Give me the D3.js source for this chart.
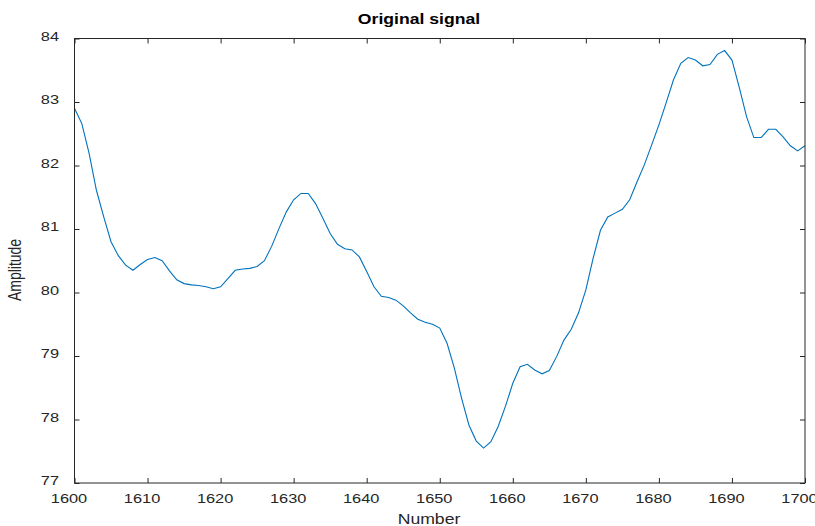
<!DOCTYPE html>
<html>
<head>
<meta charset="utf-8">
<script src="https://cdn.jsdelivr.net/npm/d3@7"></script>
<style>
  body { margin: 0; background: #fff; }
  svg { display: block; }
  text { font-family: "Liberation Sans", Arial, Helvetica, sans-serif; fill: #262626; }
</style>
</head>
<body>
<div id="chart"></div>
<script>
// sample numbers along the x axis
const sampleStart = 1600;
// amplitude of each sample, 1600..1700
const amplitude = [
  82.90, 82.66, 82.19, 81.61, 81.19, 80.80, 80.58, 80.43, 80.35, 80.44,
  80.52, 80.55, 80.50, 80.34, 80.20, 80.14, 80.12, 80.11, 80.09, 80.06,
  80.09, 80.22, 80.35, 80.37, 80.38, 80.41, 80.50, 80.73, 81.01, 81.27,
  81.46, 81.56, 81.56, 81.40, 81.17, 80.93, 80.76, 80.69, 80.67, 80.56,
  80.33, 80.09, 79.94, 79.92, 79.88, 79.79, 79.68, 79.58, 79.53, 79.50,
  79.44, 79.20, 78.81, 78.33, 77.91, 77.66, 77.55, 77.65, 77.89, 78.21,
  78.57, 78.83, 78.87, 78.78, 78.72, 78.77, 78.99, 79.25, 79.42, 79.68,
  80.04, 80.54, 80.98, 81.19, 81.25, 81.31, 81.46, 81.74, 82.01, 82.32,
  82.64, 82.99, 83.35, 83.61, 83.70, 83.66, 83.57, 83.59, 83.75, 83.81,
  83.66, 83.23, 82.77, 82.44, 82.44, 82.57, 82.57, 82.45, 82.31, 82.23,
  82.31
];
const xTicks = [1600, 1610, 1620, 1630, 1640, 1650, 1660, 1670, 1680, 1690, 1700];
const yTicks = [77, 78, 79, 80, 81, 82, 83, 84];

const width = 815, height = 526;
const margin = { top: 38.5, right: 10, bottom: 43, left: 74.5 };
const stretch = 1.26; // the picture is a bit wider than it is tall

const svg = d3.select("#chart").append("svg")
    .attr("width", width)
    .attr("height", height);

const x = d3.scaleLinear().domain([1600, 1700]).range([margin.left, width - margin.right]);
const y = d3.scaleLinear().domain([77, 84]).range([height - margin.bottom, margin.top]);

const data = amplitude.map((v, i) => ({ n: sampleStart + i, v: v }));

// signal
svg.append("path")
    .datum(data)
    .attr("fill", "none")
    .attr("stroke", "#0072BD")
    .attr("stroke-width", 1.1)
    .attr("d", d3.line().x(d => x(d.n)).y(d => y(d.v)));

// bottom axis with inward ticks
const xAxis = svg.append("g")
    .attr("transform", "translate(0," + y(77) + ")")
    .call(d3.axisBottom(x).tickValues(xTicks).tickFormat(d3.format("d"))
        .tickSizeInner(-5).tickSizeOuter(0).tickPadding(10.5));
xAxis.selectAll("text")
    .attr("font-size", 13)
    .attr("x", -6 / stretch)
    .attr("transform", "scale(" + stretch + ",1)");

// top ticks
svg.append("g")
    .attr("transform", "translate(0," + y(84) + ")")
    .call(d3.axisTop(x).tickValues(xTicks).tickSizeInner(-5).tickSizeOuter(0).tickFormat(""));

// left axis
const yAxis = svg.append("g")
    .attr("transform", "translate(" + x(1600) + ",0)")
    .call(d3.axisLeft(y).tickValues(yTicks).tickFormat(d3.format("d"))
        .tickSizeInner(-5).tickSizeOuter(0).tickPadding(0));
yAxis.selectAll("text")
    .attr("font-size", 13)
    .attr("x", -15.5 / stretch)
    .attr("dy", 1.5)
    .attr("transform", "scale(" + stretch + ",1)");

// right ticks
svg.append("g")
    .attr("transform", "translate(" + x(1700) + ",0)")
    .call(d3.axisRight(y).tickValues(yTicks).tickSizeInner(-5).tickSizeOuter(0).tickFormat(""));

svg.selectAll(".domain").remove();
svg.selectAll(".tick line").attr("stroke", "#262626");

// box
svg.append("rect")
    .attr("x", x(1600))
    .attr("y", y(84))
    .attr("width", x(1700) - x(1600))
    .attr("height", y(77) - y(84))
    .attr("fill", "none")
    .attr("stroke", "#262626")
    .attr("stroke-width", 1);

// title and labels
svg.append("text")
    .attr("transform", "translate(419,24) scale(" + stretch + ",1)")
    .attr("text-anchor", "middle")
    .attr("font-size", 14)
    .attr("font-weight", "bold")
    .style("fill", "#000")
    .text("Original signal");

svg.append("text")
    .attr("transform", "translate(429,524) scale(" + stretch + ",1)")
    .attr("text-anchor", "middle")
    .attr("font-size", 14)
    .text("Number");

svg.append("text")
    .attr("transform", "translate(20.7,270) scale(" + stretch + ",1) rotate(-90)")
    .attr("text-anchor", "middle")
    .attr("font-size", 14)
    .text("Amplitude");
</script>
</body>
</html>
